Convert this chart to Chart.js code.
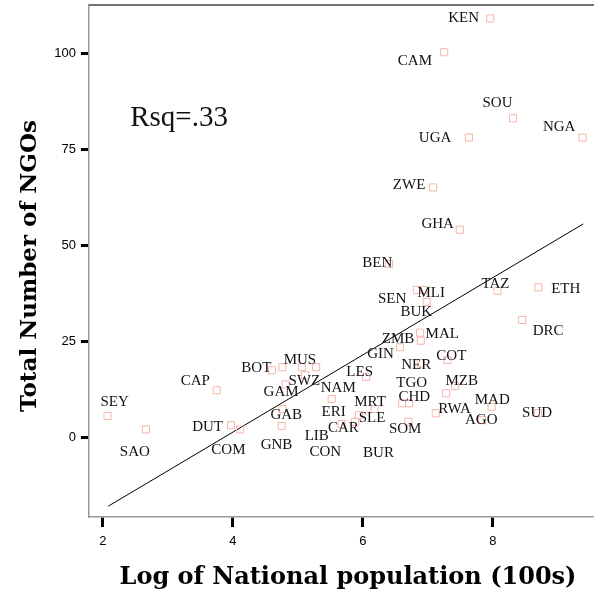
<!DOCTYPE html>
<html lang="en">
<head>
  <meta charset="UTF-8">
  <title>NGOs vs population</title>
  <script src="https://cdn.jsdelivr.net/npm/chart.js"></script>
  <style>
    body { margin: 0; background: #fff; }
    #grafico { display: block; }
  </style>
</head>
<body>
  <canvas id="grafico" width="594" height="604"></canvas>
  <script>
    // country codes, log of population, number of NGOs
    const countries = ['KEN','CAM','SOU','NGA','UGA','ZWE','GHA','BEN','SEN','MLI','BUK','TAZ','ETH','DRC',
      'MAL','ZMB','GIN','COT','NER','LES','MZB','TGO','CHD','BUR','RWA','MAD','AGO','SUD','MRT','SLE',
      'CAR','LIB','SOM','NAM','SEY','SAO','CAP','DUT','COM','BOT','MUS','ERI','CON','SWZ','GAM','GAB','GNB'];
    const logPop = [7.96,7.25,8.31,9.38,7.63,7.08,7.49,6.40,6.83,6.93,6.98,8.07,8.70,8.45,
      6.88,6.89,6.57,7.30,6.89,6.05,7.42,7.28,6.60,6.71,7.12,7.98,7.83,8.69,6.18,5.88,
      5.67,5.94,6.70,5.52,2.07,2.66,3.75,3.97,4.11,4.60,4.76,5.06,5.28,5.11,4.81,4.76,4.75];
    const ngoCount = [109,100.2,83,78,78,65,54,45.1,38.3,38.3,35.2,38.1,39,30.5,
      27.2,25.1,23.4,20.1,19.2,15.7,13.3,11.4,8.8,8.8,6.2,7.9,4.4,6.25,7.3,4.0,
      3.4,5.7,4.0,9.9,5.5,2.0,12.2,3.1,2.0,17.4,18.2,18.2,18.2,16.1,13.7,7.3,2.9];

    // where each case label sits, in axis units
    const labelX = [7.55,6.80,8.07,9.02,7.11,6.71,7.15,6.22,6.45,7.05,6.82,8.04,9.12,8.85,
      7.22,6.54,6.27,7.36,6.82,5.95,7.52,6.75,6.79,6.24,7.41,7.99,7.82,8.68,6.11,6.14,
      5.70,5.29,6.65,5.62,2.18,2.49,3.42,3.61,3.93,4.36,5.03,5.55,5.42,5.10,4.74,4.82,4.67];
    const labelY = [109.1,97.9,87,80.7,77.9,65.6,55.5,45.3,35.9,37.5,32.6,39.8,38.5,27.6,
      26.8,25.5,21.6,21.1,18.75,16.9,14.6,14.1,10.4,-4.2,7.3,9.6,4.4,6.25,9.1,4.9,
      2.3,0.3,2.1,12.8,9.1,-3.9,14.6,2.6,-3.4,18.0,20.05,6.5,-3.9,14.6,11.7,5.7,-2.1];

    // fit line end points
    const fitX = [2.08, 9.39];
    const fitY = [-18.0, 55.5];
    const rsqLabel = 'Rsq=.33';
    const rsqPos = [3.17, 83.1];

    const xTicks = [2, 4, 6, 8];
    const yTicks = [0, 25, 50, 75, 100];
    const xTitle = 'Log of National population (100s)';
    const yTitle = 'Total Number of NGOs';

    const pontos = logPop.map((x, i) => ({ x: x, y: ngoCount[i] }));
    const linha = fitX.map((x, i) => ({ x: x, y: fitY[i] }));

    const textos = {
      id: 'textos',
      afterDraw(chart) {
        const ctx = chart.ctx;
        const xs = chart.scales.x, ys = chart.scales.y;
        const area = chart.chartArea;
        ctx.save();
        // top frame line
        ctx.strokeStyle = '#444';
        ctx.lineWidth = 1.5;
        ctx.beginPath();
        ctx.moveTo(area.left, area.top);
        ctx.lineTo(chart.width, area.top);
        ctx.stroke();

        ctx.fillStyle = '#111';
        ctx.textAlign = 'center';
        ctx.textBaseline = 'middle';
        ctx.font = '15px "Liberation Serif"';
        countries.forEach(function(c, i) {
          ctx.fillText(c, xs.getPixelForValue(labelX[i]), ys.getPixelForValue(labelY[i]));
        });

        ctx.font = '29px "Liberation Serif"';
        ctx.fillText(rsqLabel, xs.getPixelForValue(rsqPos[0]), ys.getPixelForValue(rsqPos[1]));

        ctx.fillStyle = '#000';
        ctx.font = 'bold 24px "DejaVu Serif"';
        ctx.fillText(xTitle, 348, 578);
        ctx.font = 'bold 23px "DejaVu Serif"';
        ctx.translate(30, 266);
        ctx.rotate(-Math.PI / 2);
        ctx.fillText(yTitle, 0, 0);
        ctx.restore();
      }
    };

    const tickFont = { family: '"Liberation Sans", Arial, sans-serif', size: 13 };

    new Chart(document.getElementById('grafico').getContext('2d'), {
      type: 'scatter',
      data: {
        datasets: [{
          data: pontos,
          pointStyle: 'rect',
          pointRadius: 5,
          borderWidth: 1,
          borderColor: '#f5b5aa',
          backgroundColor: 'rgba(0,0,0,0)'
        }, {
          data: linha,
          showLine: true,
          pointRadius: 0,
          borderColor: '#000',
          borderWidth: 1
        }]
      },
      options: {
        responsive: false,
        animation: false,
        layout: { autoPadding: false, padding: { top: 5, right: 1, left: 0, bottom: 0 } },
        plugins: { legend: { display: false }, tooltip: { enabled: false } },
        scales: {
          x: {
            type: 'linear',
            min: 1.785,
            max: 9.54,
            afterBuildTicks: s => { s.ticks = xTicks.map(v => ({ value: v })); },
            afterFit: s => { s.height = 87; s.paddingLeft = 0; s.paddingRight = 0; },
            ticks: { font: tickFont, color: '#000', padding: 7 },
            grid: { drawOnChartArea: false, tickLength: 10, tickWidth: 3, tickColor: '#000' },
            border: { color: '#999', width: 1.5 }
          },
          y: {
            type: 'linear',
            min: -20.8,
            max: 112.5,
            afterBuildTicks: s => { s.ticks = yTicks.map(v => ({ value: v })); },
            afterFit: s => { s.width = 89; s.paddingTop = 0; s.paddingBottom = 0; },
            ticks: { font: tickFont, color: '#000', padding: 5 },
            grid: { drawOnChartArea: false, tickLength: 8, tickWidth: 3, tickColor: '#000' },
            border: { color: '#999', width: 1.5 }
          }
        }
      },
      plugins: [textos]
    });
  </script>
</body>
</html>
